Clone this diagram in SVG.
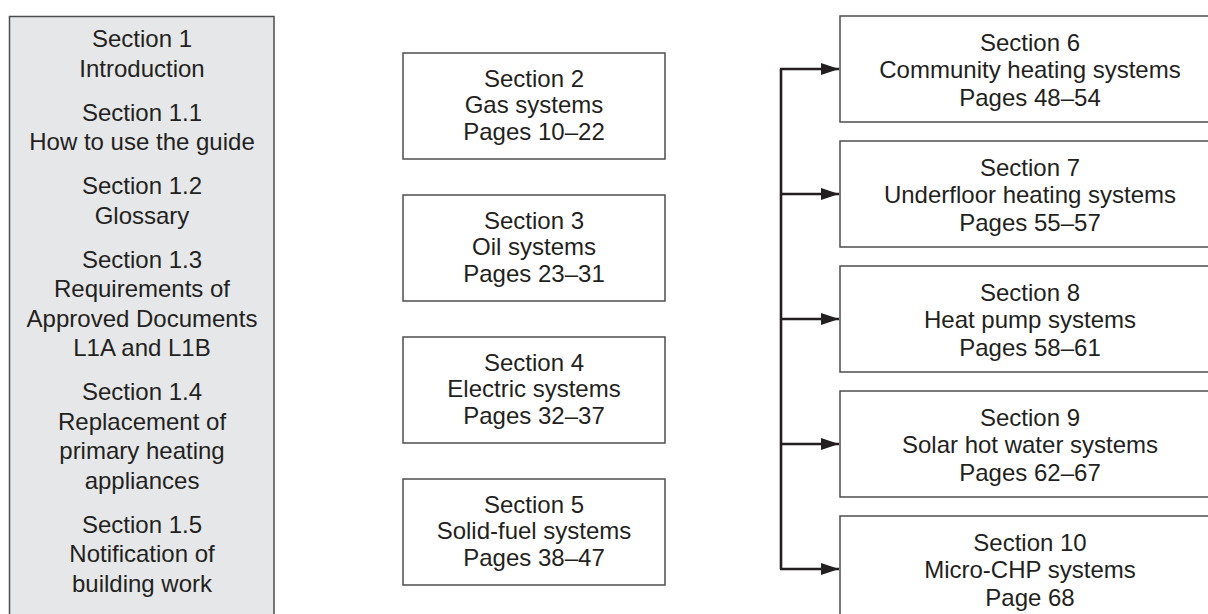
<svg xmlns="http://www.w3.org/2000/svg" width="1208" height="614" viewBox="0 0 1208 614">
  <defs>
    <style>
      .t { font-family: "Liberation Sans", Arial, Helvetica, sans-serif; font-size: 24px; fill: #231f20; text-anchor: middle; }
      .side { fill: #e6e7e8; stroke: #4d4d4f; stroke-width: 1.5; }
      .box { fill: #ffffff; stroke: #4d4d4f; stroke-width: 1.5; }
      .conn { fill: none; stroke: #231f20; stroke-width: 2.6; }
    </style>
    <marker id="arr" viewBox="0 0 18 12" refX="18" refY="6" markerWidth="18" markerHeight="12" markerUnits="userSpaceOnUse" orient="auto">
      <path d="M0,0 L18,6 L0,12 Z" fill="#231f20"/>
    </marker>
  </defs>
  <rect width="1208" height="614" fill="#ffffff"/>

  <g id="section1">
    <rect class="side" x="9.5" y="16.5" width="264.5" height="620"/>
    <text class="t" x="142" y="47">Section 1</text>
    <text class="t" x="142" y="77">Introduction</text>
    <text class="t" x="142" y="121">Section 1.1</text>
    <text class="t" x="142" y="150">How to use the guide</text>
    <text class="t" x="142" y="194">Section 1.2</text>
    <text class="t" x="142" y="224">Glossary</text>
    <text class="t" x="142" y="268">Section 1.3</text>
    <text class="t" x="142" y="297">Requirements of</text>
    <text class="t" x="142" y="327">Approved Documents</text>
    <text class="t" x="142" y="356">L1A and L1B</text>
    <text class="t" x="142" y="400">Section 1.4</text>
    <text class="t" x="142" y="430">Replacement of</text>
    <text class="t" x="142" y="459">primary heating</text>
    <text class="t" x="142" y="489">appliances</text>
    <text class="t" x="142" y="533">Section 1.5</text>
    <text class="t" x="142" y="562">Notification of</text>
    <text class="t" x="142" y="592">building work</text>
  </g>

  <g id="section2">
    <rect class="box" x="403" y="53" width="262" height="106"/>
    <text class="t" x="534" y="86.5">Section 2</text>
    <text class="t" x="534" y="113">Gas systems</text>
    <text class="t" x="534" y="139.5">Pages 10–22</text>
  </g>
  <g id="section3">
    <rect class="box" x="403" y="195" width="262" height="106"/>
    <text class="t" x="534" y="228.5">Section 3</text>
    <text class="t" x="534" y="255">Oil systems</text>
    <text class="t" x="534" y="281.5">Pages 23–31</text>
  </g>
  <g id="section4">
    <rect class="box" x="403" y="337" width="262" height="106"/>
    <text class="t" x="534" y="370.5">Section 4</text>
    <text class="t" x="534" y="397">Electric systems</text>
    <text class="t" x="534" y="423.5">Pages 32–37</text>
  </g>
  <g id="section5">
    <rect class="box" x="403" y="479" width="262" height="106"/>
    <text class="t" x="534" y="512.5">Section 5</text>
    <text class="t" x="534" y="539">Solid-fuel systems</text>
    <text class="t" x="534" y="565.5">Pages 38–47</text>
  </g>

  <g id="section6">
    <rect class="box" x="840" y="16" width="420" height="106"/>
    <text class="t" x="1030" y="50.5">Section 6</text>
    <text class="t" x="1030" y="78">Community heating systems</text>
    <text class="t" x="1030" y="105.5">Pages 48–54</text>
  </g>
  <g id="section7">
    <rect class="box" x="840" y="141" width="420" height="106"/>
    <text class="t" x="1030" y="175.5">Section 7</text>
    <text class="t" x="1030" y="203">Underfloor heating systems</text>
    <text class="t" x="1030" y="230.5">Pages 55–57</text>
  </g>
  <g id="section8">
    <rect class="box" x="840" y="266" width="420" height="106"/>
    <text class="t" x="1030" y="300.5">Section 8</text>
    <text class="t" x="1030" y="328">Heat pump systems</text>
    <text class="t" x="1030" y="355.5">Pages 58–61</text>
  </g>
  <g id="section9">
    <rect class="box" x="840" y="391" width="420" height="106"/>
    <text class="t" x="1030" y="425.5">Section 9</text>
    <text class="t" x="1030" y="453">Solar hot water systems</text>
    <text class="t" x="1030" y="480.5">Pages 62–67</text>
  </g>
  <g id="section10">
    <rect class="box" x="840" y="516" width="420" height="106"/>
    <text class="t" x="1030" y="550.5">Section 10</text>
    <text class="t" x="1030" y="578">Micro-CHP systems</text>
    <text class="t" x="1030" y="605.5">Page 68</text>
  </g>

  <g id="connectors">
    <path class="conn" d="M781,69 L781,569"/>
    <path class="conn" d="M780,69 L839,69" marker-end="url(#arr)"/>
    <path class="conn" d="M781,194 L839,194" marker-end="url(#arr)"/>
    <path class="conn" d="M781,319 L839,319" marker-end="url(#arr)"/>
    <path class="conn" d="M781,444 L839,444" marker-end="url(#arr)"/>
    <path class="conn" d="M780,569 L839,569" marker-end="url(#arr)"/>
  </g>
</svg>
